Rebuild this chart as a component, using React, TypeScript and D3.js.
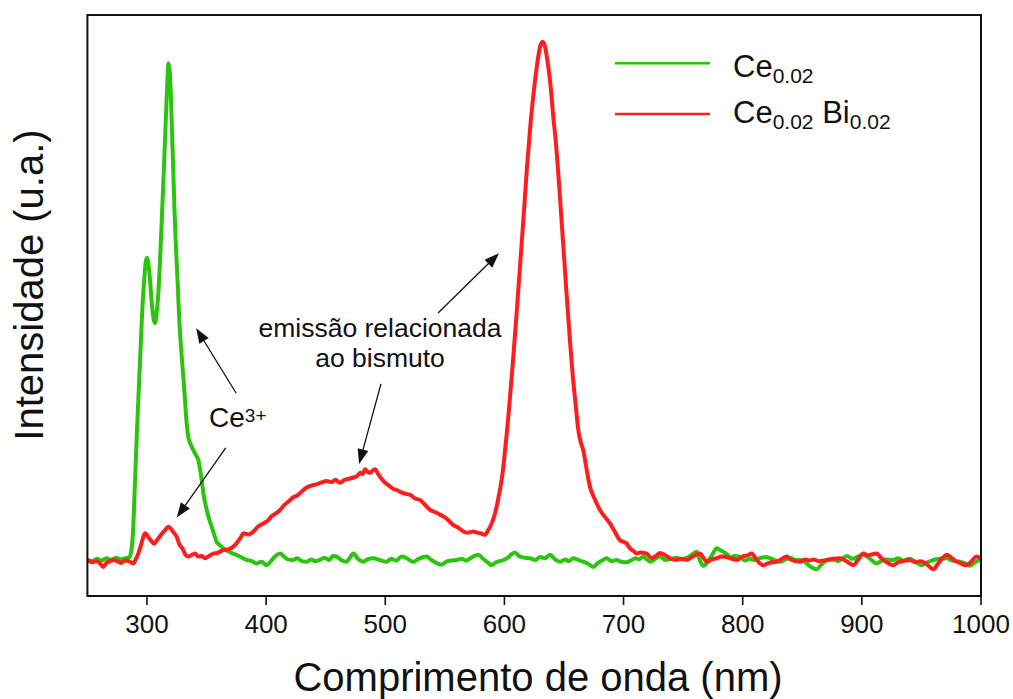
import React from "react";
import * as d3 from "d3";

// Emission spectra: wavelength (nm), intensity (arbitrary units, 0-100)
const ce002: [number, number][] = [
  [250, 6.2], [254, 6.0], [258, 6.4], [262, 6.1], [266, 6.5], [270, 6.2], [274, 6.6], [278, 6.3],
  [282, 6.5], [285, 6.6], [287, 8.0], [288.5, 12], [290, 20], [291.5, 28], [293, 35], [294.5, 42],
  [296, 49], [297.5, 54], [299, 57.5], [300, 58.2], [301, 57.5], [302.5, 54.5], [304, 50.5],
  [305.5, 47.8], [306.7, 47.0], [308, 48.5], [309.5, 52], [311, 58], [312.5, 65], [314, 72.5],
  [315.5, 80.5], [317, 88], [318, 91.7], [319, 90.5], [320, 86.5], [321, 80], [322, 73.5],
  [323, 67], [324, 61.5], [325.5, 55], [327, 48], [328.5, 43], [330, 39], [331.5, 35], [333, 30.5],
  [334.7, 27.4], [336.5, 26.2], [338.9, 25.1], [341, 24.3], [343.1, 23.4], [345.9, 20], [347.5, 17.5],
  [349.5, 15.4], [352, 13.4], [354.3, 11.9], [356.5, 10.5], [358.5, 9.3], [361, 8.8], [364.1, 8.2],
  [368, 7.7], [372.5, 7.3], [378, 6.8], [383.7, 6.2], [388, 6.0], [392, 5.6], [396, 5.9], [400.5, 5.3],
  [404, 6.0], [408, 6.9], [411.7, 7.3], [415, 6.8], [418, 6.3], [422.6, 6.2], [426, 6.5], [430, 6.0],
  [434, 5.9], [438, 6.3], [441, 6.0], [445, 6.2], [449, 6.6], [453, 6.2], [456, 6.9], [459, 6.8],
  [463, 6.2], [467.6, 5.9], [470, 6.5], [473.2, 7.3], [477, 6.4], [481.6, 5.9], [485, 6.3], [490, 6.5],
  [495, 6.2], [501.2, 5.9], [505, 6.4], [509, 6.1], [513.8, 6.8], [518, 6.5], [523.5, 5.9], [528, 6.4],
  [534.8, 6.8], [538, 6.3], [542, 5.8], [547.4, 5.4], [551, 5.9], [555, 6.1], [560, 6.2], [564, 6.4],
  [568, 6.1], [572, 6.6], [575, 6.9], [578.1, 7.1], [582, 6.4], [586, 5.8], [589.3, 5.3], [593, 5.8],
  [599.1, 6.2], [603, 6.6], [606, 7.2], [608.9, 7.5], [612, 6.9], [616, 6.6], [621.5, 6.5], [626, 6.2],
  [630, 6.7], [634, 6.5], [638.3, 7.1], [642, 6.4], [646.7, 5.9], [651, 6.3], [654, 6.0], [657.8, 6.5],
  [662, 6.2], [666, 5.9], [670, 5.6], [674.6, 5.0], [678, 5.6], [682, 6.1], [685.9, 6.5], [690, 6.0],
  [694, 6.2], [698, 5.9], [702.7, 5.8], [706, 6.1], [710, 6.5], [713, 6.3], [716.6, 6.8], [719, 6.4],
  [722.2, 5.9], [726, 6.3], [730.6, 6.8], [735, 6.2], [740, 6.4], [745, 6.6], [748, 6.3], [752, 6.5],
  [756, 6.9], [761.4, 7.6], [764, 6.2], [767, 5.2], [771, 6.0], [775, 7.3], [778.2, 8.2], [781, 7.9],
  [786.6, 7.2], [790, 6.6], [793, 6.9], [797.8, 6.7], [802, 6.1], [806, 6.4], [809, 6.2], [814, 6.5],
  [820, 6.7], [825, 6.3], [831.4, 5.9], [836, 6.3], [840, 6.6], [844, 6.2], [848, 6.2], [852, 5.9],
  [856, 5.2], [859, 4.8], [862, 4.6], [866, 5.4], [870, 6.1], [876, 6.3], [880, 6.0], [884, 6.5],
  [887.3, 6.9], [892, 6.4], [897, 6.8], [901, 7.1], [905, 6.7], [908, 6.2], [912.5, 5.6], [916, 6.0],
  [920, 6.3], [926.4, 6.2], [930, 6.5], [935, 6.1], [940, 6.4], [945, 5.9], [950, 5.3], [955, 5.8],
  [960, 6.2], [965, 6.4], [971, 6.5], [976, 6.1], [982.4, 5.9], [987, 5.6], [990.8, 5.2], [995, 5.8],
  [1000, 6.3],
];

const ce002bi002: [number, number][] = [
  [250, 6.2], [254, 5.8], [258, 6.0], [261, 5.5], [263.3, 5.0], [266, 5.7], [269, 6.0], [271.7, 6.2],
  [275, 6.0], [278, 5.7], [282, 6.1], [285.8, 5.9], [288.5, 5.6], [290.5, 6.3], [292.7, 7.3], [295, 8.8],
  [297, 10.2], [298.3, 10.8], [300, 10.5], [302, 9.9], [304, 9.4], [306, 9.0], [308, 9.5], [309.5, 9.9],
  [312, 10.6], [315, 11.3], [317.9, 11.9], [320, 11.6], [322.5, 10.9], [324.9, 10.2], [327, 9.0],
  [330.5, 7.9], [332.5, 7.0], [334.7, 6.8], [337, 7.0], [340.3, 7.3], [343, 6.8], [346, 6.9], [348.7, 6.5],
  [352, 6.9], [355.7, 7.3], [359, 7.4], [364.1, 7.9], [368, 8.0], [372.5, 8.5], [376, 9.3], [379, 10.2],
  [380.9, 10.8], [385, 10.6], [389.3, 11.1], [393, 11.9], [397.7, 12.5], [401, 12.9], [405, 13.8],
  [408, 14.2], [411.7, 14.8], [415, 15.6], [419, 16.3], [422.8, 17.0], [426, 17.3], [430, 18.0],
  [434.1, 18.7], [438, 19.0], [442, 19.2], [446, 19.5], [450.9, 19.8], [455, 19.6], [458, 20.0],
  [462, 19.5], [466, 20.0], [470, 20.2], [473.2, 20.4], [476, 20.6], [479, 21.2], [481, 21.0],
  [483.1, 21.8], [485, 21.4], [487.3, 21.2], [489, 21.5], [491.5, 21.8], [494, 21.0], [496, 20.4],
  [499.9, 19.5], [503, 19.0], [506.8, 18.4], [510, 18.2], [514, 17.8], [517, 17.6], [520.9, 17.4],
  [525, 16.8], [529.3, 16.5], [533, 15.8], [537.7, 14.8], [541, 14.5], [545, 14.1], [548.7, 13.7],
  [552, 13.2], [557.1, 12.2], [561, 11.8], [565.5, 11.1], [569, 10.9], [573.9, 11.1], [577, 10.9],
  [580, 10.8], [583.7, 10.5], [586, 11.2], [589.3, 12.5], [591.5, 13.8], [593.5, 15.4], [595.5, 17.5],
  [597.7, 20], [600, 24], [602, 28], [604, 32.5], [607, 40], [610, 48], [613, 56.5], [616, 65],
  [619, 74], [622, 81.5], [625, 87.5], [628, 92.3], [630, 94.6], [632, 95.4], [634, 94.6], [636, 92.3],
  [638.8, 87.7], [641, 82.5], [643, 78.5], [646, 70.5], [649, 61.5], [652, 52.5], [655, 44],
  [658, 36.5], [660, 32.5], [662, 28.6], [664, 26.5], [666.2, 25.1], [669, 21.8], [671.8, 18.8],
  [676, 16.6], [680.2, 14.8], [684, 13.7], [688.6, 12.5], [692, 11.3], [697, 9.6], [700, 9.3],
  [702.7, 9.0], [705.4, 8.2], [708, 7.8], [711.1, 7.3], [714, 7.5], [719.4, 7.3], [723.7, 6.5],
  [727, 6.9], [730.6, 7.4], [735, 7.0], [739, 6.5], [744, 6.2], [748, 6.4], [753, 6.2], [758, 6.8],
  [764.2, 7.3], [767, 6.6], [769.8, 5.9], [774, 6.3], [778.2, 6.5], [782, 6.8], [786.6, 6.7], [791, 6.4],
  [795, 6.2], [800, 6.8], [804, 7.0], [807.6, 7.3], [811, 6.4], [814, 5.7], [817.3, 5.3], [821, 5.6],
  [825, 5.8], [828.6, 5.9], [833, 6.4], [836.9, 6.8], [840, 6.3], [844, 6.0], [848.1, 5.9], [852, 6.3],
  [856, 6.1], [859.3, 6.3], [864, 6.0], [870.5, 6.2], [876, 6.4], [881.7, 6.5], [886, 6.1], [890, 5.6],
  [892.9, 5.3], [896, 6.0], [901.3, 7.3], [905, 7.0], [909, 7.2], [912.5, 7.3], [916, 6.6], [920, 5.9],
  [926.4, 5.3], [930, 5.8], [935, 6.0], [940, 6.2], [945, 5.8], [949, 6.0], [953, 5.7], [957, 5.0],
  [960, 4.6], [964, 5.6], [968, 6.6], [971.2, 7.1], [975, 6.6], [979, 6.0], [982.4, 5.7], [985, 5.4],
  [988, 5.3], [992, 6.0], [996.4, 6.8], [1000, 6.4],
];

const xTicks = [300, 400, 500, 600, 700, 800, 900, 1000];

// Annotation arrows in data units: [fromNm, fromI, toNm, toI]
const arrows: [number, number, number, number][] = [
  [374.9, 34.9, 341.3, 46.1],
  [366.1, 25.5, 325.0, 13.5],
  [496.4, 36.5, 478.0, 22.7],
  [544.3, 48.7, 595.5, 59.0],
];

const GREEN = "#2bc40e";
const RED = "#ff1e1e";
const FONT = "'Liberation Sans', Arial, Helvetica, sans-serif";

const W = 1013;
const H = 699;
const M = { left: 87.4, right: 981, top: 15, bottom: 596 };

export default function App() {
  const x = d3.scaleLinear().domain([250, 1000]).range([M.left, M.right]);
  const y = d3.scaleLinear().domain([0, 100]).range([M.bottom, M.top]);

  const line = d3
    .line<[number, number]>()
    .x((d) => x(d[0]))
    .y((d) => y(d[1]))
    .curve(d3.curveMonotoneX);

  const arrowHead = (x1: number, y1: number, x2: number, y2: number) => {
    const ang = Math.atan2(y2 - y1, x2 - x1);
    const len = 15;
    const half = 5.5;
    const bx = x2 - len * Math.cos(ang);
    const by = y2 - len * Math.sin(ang);
    const px = -Math.sin(ang) * half;
    const py = Math.cos(ang) * half;
    return {
      shaft: [bx + 2 * Math.cos(ang), by + 2 * Math.sin(ang)],
      poly: `${x2},${y2} ${bx + px},${by + py} ${bx - px},${by - py}`,
    };
  };

  return (
    <svg
      width={W}
      height={H}
      style={{ position: "absolute", left: 0, top: 0, background: "#fff" }}
      fontFamily={FONT}
    >
      <rect x={0} y={0} width={W} height={H} fill="#fff" />

      <defs>
        <clipPath id="plot-clip">
          <rect x={M.left} y={M.top} width={M.right - M.left} height={M.bottom - M.top} />
        </clipPath>
      </defs>

      <g clipPath="url(#plot-clip)">
        <path d={line(ce002) ?? ""} fill="none" stroke={GREEN} strokeWidth={4} strokeLinejoin="round" />
        <path d={line(ce002bi002) ?? ""} fill="none" stroke={RED} strokeWidth={4} strokeLinejoin="round" />
      </g>

      {/* frame */}
      <rect
        x={M.left}
        y={M.top}
        width={M.right - M.left}
        height={M.bottom - M.top}
        fill="none"
        stroke="#111"
        strokeWidth={2}
      />

      {/* x ticks */}
      {xTicks.map((t) => (
        <g key={t}>
          <line x1={x(t)} x2={x(t)} y1={M.bottom} y2={M.bottom + 9} stroke="#111" strokeWidth={1.6} />
          <text x={x(t)} y={M.bottom + 37} textAnchor="middle" fontSize={26} fill="#111">
            {t}
          </text>
        </g>
      ))}

      <text x={538} y={691} textAnchor="middle" fontSize={40} fill="#111">
        Comprimento de onda (nm)
      </text>
      <text
        transform={`translate(43, 285) rotate(-90)`}
        textAnchor="middle"
        fontSize={40}
        fill="#111"
      >
        Intensidade (u.a.)
      </text>

      {/* legend */}
      <line x1={615} x2={710} y1={63.3} y2={63.3} stroke={GREEN} strokeWidth={2.5} />
      <line x1={615} x2={710} y1={114} y2={114} stroke={RED} strokeWidth={2.5} />
      <text x={733} y={77.3} fontSize={31} fill="#111">
        Ce
        <tspan fontSize={21} dy={6}>0.02</tspan>
      </text>
      <text x={733} y={123.3} fontSize={31} fill="#111">
        Ce
        <tspan fontSize={21} dy={6}>0.02</tspan>
        <tspan dy={-6}> Bi</tspan>
        <tspan fontSize={21} dy={6}>0.02</tspan>
      </text>

      {/* annotations */}
      {arrows.map(([a, b, c, d], i) => {
        const x1 = x(a), y1 = y(b), x2 = x(c), y2 = y(d);
        const h = arrowHead(x1, y1, x2, y2);
        return (
          <g key={i}>
            <line x1={x1} y1={y1} x2={h.shaft[0]} y2={h.shaft[1]} stroke="#111" strokeWidth={1.3} />
            <polygon points={h.poly} fill="#111" />
          </g>
        );
      })}

      <text x={x(352.1)} y={y(29.1)} fontSize={28} fill="#111">
        Ce
        <tspan fontSize={19} dy={-5}>3+</tspan>
      </text>
      <text x={x(495.6)} y={y(44.6)} textAnchor="middle" fontSize={26.5} fill="#111">
        emissão relacionada
      </text>
      <text x={x(495.6)} y={y(39.5)} textAnchor="middle" fontSize={26.5} fill="#111">
        ao bismuto
      </text>
    </svg>
  );
}
